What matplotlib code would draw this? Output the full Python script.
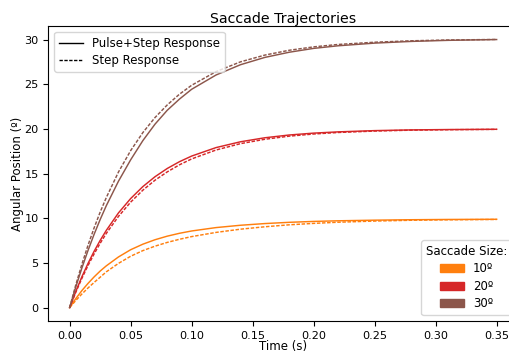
import matplotlib
matplotlib.use("Agg")
import matplotlib.pyplot as plt
from matplotlib.lines import Line2D
from matplotlib.patches import Patch

# Sample times (s)
time_s = [0, 0.005, 0.01, 0.015, 0.02, 0.025, 0.03, 0.04, 0.05, 0.06, 0.07, 0.08,
          0.09, 0.10, 0.12, 0.14, 0.16, 0.18, 0.20, 0.22, 0.25, 0.28, 0.31, 0.35]

# Eye position (deg) for the pulse+step controller
pulse_step_10 = [0, 1.0, 1.9, 2.7, 3.43, 4.09, 4.67, 5.67, 6.48, 7.1, 7.6, 8.0,
                 8.32, 8.58, 8.96, 9.22, 9.41, 9.55, 9.65, 9.72, 9.79, 9.84, 9.87, 9.89]
pulse_step_20 = [0, 1.8, 3.44, 4.93, 6.29, 7.52, 8.64, 10.6, 12.21, 13.55, 14.66, 15.58,
                 16.34, 16.97, 17.92, 18.57, 19.02, 19.33, 19.54, 19.68, 19.82, 19.9, 19.94, 19.97]
pulse_step_30 = [0, 2.3, 4.42, 6.38, 8.19, 9.86, 11.4, 14.15, 16.55, 18.7, 20.55, 22.1,
                 23.35, 24.45, 26.05, 27.2, 28.02, 28.6, 29.03, 29.32, 29.62, 29.81, 29.93, 30.02]

# Eye position (deg) for the plain step controller
step_10 = [0, 0.79, 1.52, 2.19, 2.81, 3.4, 4.0, 4.95, 5.75, 6.38, 6.88, 7.3,
           7.65, 7.95, 8.42, 8.78, 9.05, 9.27, 9.43, 9.56, 9.69, 9.78, 9.83, 9.87]
step_20 = [0, 1.71, 3.27, 4.7, 6.0, 7.2, 8.3, 10.21, 11.81, 13.15, 14.27, 15.2,
           15.99, 16.65, 17.65, 18.36, 18.85, 19.2, 19.44, 19.61, 19.77, 19.87, 19.92, 19.96]
step_30 = [0, 2.53, 4.84, 6.96, 8.91, 10.69, 12.31, 15.18, 17.58, 19.6, 21.29, 22.7,
           23.9, 24.9, 26.43, 27.52, 28.28, 28.82, 29.2, 29.47, 29.72, 29.88, 29.97, 30.03]

sizes = ["10º", "20º", "30º"]
colors = ["tab:orange", "tab:red", "tab:brown"]
pulse_step = [pulse_step_10, pulse_step_20, pulse_step_30]
step = [step_10, step_20, step_30]

fig = plt.figure(figsize=(5.09, 3.52), dpi=100)
ax = fig.add_axes([0.0949, 0.0881, 0.9228, 0.8379])

dash = (0, (2.4, 1.1))
for c, ps, st in zip(colors, pulse_step, step):
    ax.plot(time_s, ps, color=c, lw=1.05)
    ax.plot(time_s, st, color=c, lw=1.05, linestyle=dash)

ax.set_title("Saccade Trajectories", fontsize=10.2, pad=2.5)
ax.set_xlabel("Time (s)", fontsize=8.5, labelpad=-0.8)
ax.set_ylabel("Angular Position (º)", fontsize=8.5, labelpad=0.5)
ax.tick_params(labelsize=8.1)
ax.set_xticks([0, 0.05, 0.10, 0.15, 0.20, 0.25, 0.30, 0.35])
ax.set_yticks([0, 5, 10, 15, 20, 25, 30])

style_handles = [Line2D([], [], color="black", lw=1.0),
                 Line2D([], [], color="black", lw=1.0, linestyle=dash)]
leg1 = ax.legend(style_handles, ["Pulse+Step Response", "Step Response"],
                 loc="upper left", fontsize=8.5, labelspacing=0.35)
ax.add_artist(leg1)

size_handles = [Patch(color=c) for c in colors]
ax.legend(size_handles, sizes, loc="lower right", fontsize=8.5,
          title="Saccade Size:", title_fontsize=8.5, labelspacing=0.38)

fig.savefig("out.png", dpi=100)
